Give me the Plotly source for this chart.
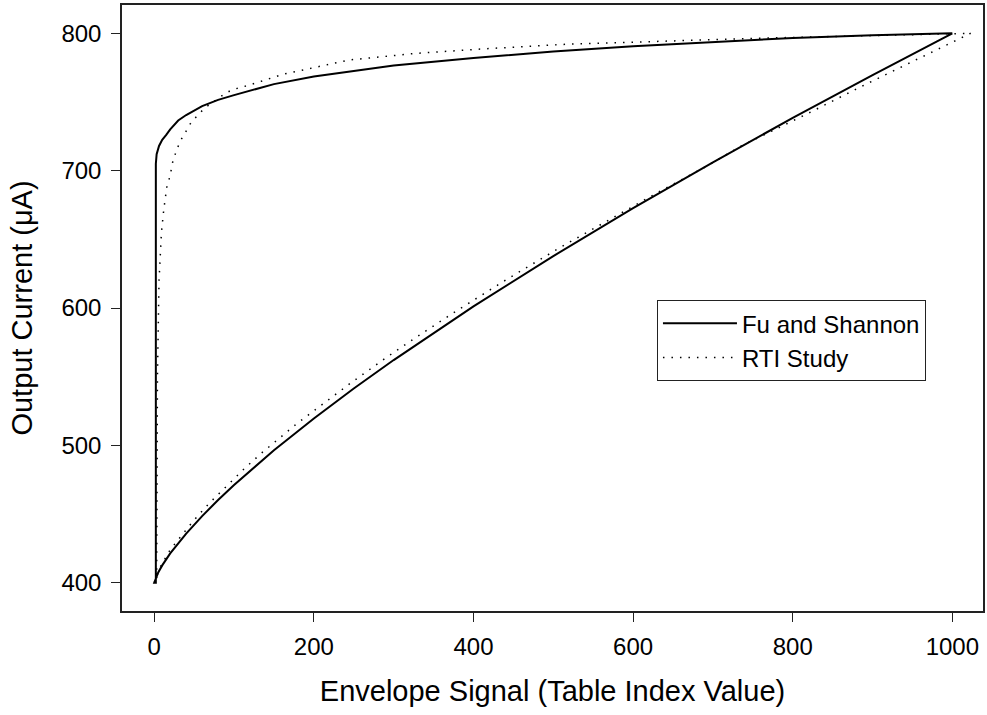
import plotly.graph_objects as go

# ---- Data ----
# Fu and Shannon: lower branch
fs_lower_x = [0, 5, 10, 20, 40, 60, 80, 100, 150, 200, 250, 300, 400, 500, 600, 700, 800, 900, 1000]
fs_lower_y = [400, 407.5, 412.6, 421.3, 435.8, 448.5, 460.2, 471.1, 496.4, 519.6, 541.4, 562.1,
              601.2, 637.8, 672.7, 706.1, 738.4, 769.6, 800]
# Fu and Shannon: upper branch
fs_upper_x = [2, 2, 3, 6, 10, 15, 20, 30, 40, 60, 80, 100, 150, 200, 250, 300, 400, 500, 600,
              700, 800, 900, 1000]
fs_upper_y = [400, 705, 712, 718, 722.5, 726, 730, 736.5, 740.5, 747, 751.5, 755, 763, 768.5,
              772.5, 776.5, 782, 786.8, 790.5, 793.8, 796.6, 798.5, 800]

# RTI Study: lower branch
rti_lower_x = [0, 8, 20, 32, 48.8, 68.8, 90.5, 112.5, 134, 156, 178, 201, 223, 244.6, 288, 321.7,
               377, 443, 509, 575, 630.5, 690, 738, 817.5, 884, 949.6, 993.7, 1023]
rti_lower_y = [400, 412, 424, 432.3, 444.9, 457.8, 470.4, 482.8, 494.2, 504.8, 515.5, 525.7, 535.4,
               544.7, 562.8, 576.2, 597.3, 621.3, 644.2, 666, 684, 702.6, 718.7, 741.2, 760.7,
               779.3, 791.5, 800]
# RTI Study: upper branch
rti_upper_x = [3, 4, 6, 9, 12, 14.6, 16, 19.6, 21.7, 23.8, 28, 32, 38.4, 44.6, 53.8, 64, 86, 96.7,
               119.6, 161, 244.6, 328, 411, 515.5, 757, 999, 1023]
rti_upper_y = [400, 550, 620, 655, 672, 682.3, 689, 695.6, 701.7, 708.3, 714.5, 721, 727.2, 733.7,
               740, 746, 755, 758.7, 762.4, 770.1, 780.6, 785.4, 788.6, 792, 796.4, 799.5, 800]

series_names = ["Fu and Shannon", "RTI Study"]
x_ticks = [0, 200, 400, 600, 800, 1000]
y_ticks = [400, 500, 600, 700, 800]
x_title = "Envelope Signal (Table Index Value)"
y_title = "Output Current (\u03bcA)"

FONT = "Liberation Sans, Arial, Helvetica, sans-serif"

fig = go.Figure()
fig.add_trace(go.Scatter(
    x=fs_lower_x[::-1] + fs_upper_x,
    y=fs_lower_y[::-1] + fs_upper_y,
    mode="lines", name=series_names[0],
    line=dict(color="black", width=2),
))
fig.add_trace(go.Scatter(
    x=rti_lower_x[::-1] + rti_upper_x,
    y=rti_lower_y[::-1] + rti_upper_y,
    mode="lines", name=series_names[1],
    line=dict(color="black", width=1.5, dash="1.5px,7px"),
))

axis_common = dict(
    showgrid=False, zeroline=False,
    showline=True, linecolor="#222", linewidth=1.5, mirror=True,
    ticks="outside", ticklen=9, tickwidth=1.2, tickcolor="#222",
    tickfont=dict(family=FONT, size=24, color="black"),
)

fig.update_layout(
    width=987, height=715,
    margin=dict(l=122, r=2, t=5, b=104),
    paper_bgcolor="white", plot_bgcolor="white",
    font=dict(family=FONT, size=24, color="black"),
    showlegend=True,
    legend=dict(
        x=(658 - 122) / 863, y=(611 - 300) / 606, xanchor="left", yanchor="top",
        bgcolor="white", bordercolor="#222", borderwidth=1.2,
        font=dict(family=FONT, size=24, color="black"),
        itemwidth=74, entrywidth=276, entrywidthmode="pixels",
        tracegroupgap=0,
    ),
    xaxis=dict(
        range=[-40.4, 1038.4], tickvals=x_ticks, ticklabelstandoff=4,
        title=dict(text=x_title, font=dict(family=FONT, size=29), standoff=22),
        **axis_common,
    ),
    yaxis=dict(
        range=[379.4, 820.6], tickvals=y_ticks, ticklabelstandoff=5,
        title=dict(text=y_title, font=dict(family=FONT, size=29), standoff=20),
        **axis_common,
    ),
)

fig.write_html("out.html")
